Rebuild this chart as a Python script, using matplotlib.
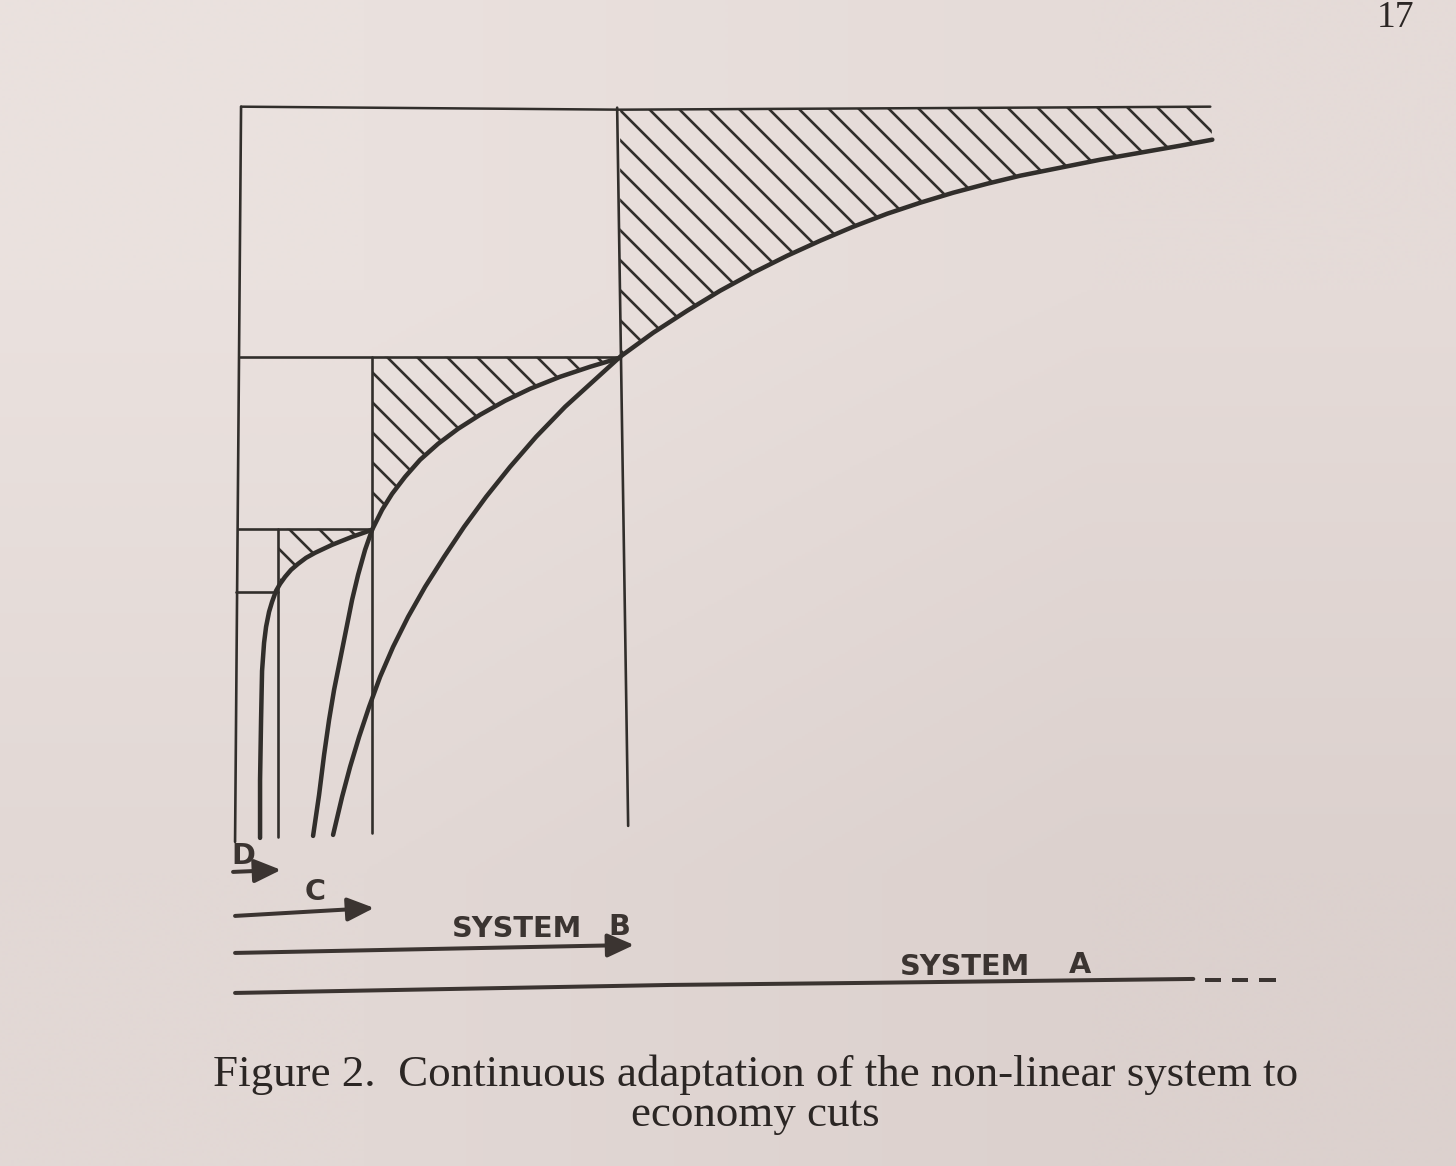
import matplotlib.pyplot as plt
import numpy as np
from matplotlib.patches import Polygon

plt.rcParams['hatch.linewidth'] = 1.05

# page size in pixels; all coordinates below are page pixels, y pointing down
W, H = 1456, 1166
DPI = 180   # 180 dpi -> hatch lines every 30 px, like the drawing

ink = '#312e2b'
pen = '#3b3431'
print_ink = '#2b2624'

# --- curves ---
# system A: flat tail on the right, through the B corner, steep drop to the bottom
curve_a_x = [1212, 1180, 1140, 1100, 1060, 1020, 987, 953, 920, 887, 853, 820, 787, 753, 720,
             687, 653, 620, 565, 536, 510, 486, 464, 444, 425, 408, 393, 380, 369, 359,
             350, 342, 333]
curve_a_y = [140, 146, 153, 160, 168, 176, 184, 193, 203, 214, 227, 241, 256, 273, 291,
             311, 333, 357, 407, 437, 467, 497, 527, 557, 587, 617, 647, 677, 707, 737,
             767, 797, 835]
# system B: from the B corner to the C corner and down
curve_b_x = [620, 590, 560, 530, 505, 480, 458, 438, 420, 405, 392, 382, 372,
             365, 358, 352, 346, 340, 334, 329, 324, 319, 313]
curve_b_y = [358, 367, 377, 389, 401, 415, 429, 444, 460, 477, 494, 510, 530,
             550, 575, 600, 630, 660, 690, 720, 755, 795, 836]
# system C: from the C corner, round the D corner and down
curve_c_x = [372, 352, 332, 315, 306, 298, 291, 285, 280, 276, 272, 269, 266, 264, 262,
             261, 260, 260]
curve_c_y = [530, 537, 545, 553, 558, 564, 570, 577, 584, 591, 602, 612, 627, 643, 671,
             720, 780, 838]

# top edge of the big box
top_x = [241, 620, 1210]
top_y = [107, 110, 107]

# the box edges and the verticals, (x0, y0, x1, y1)
frame_lines = [
    (241, 107, 235, 842),   # left edge
    (617, 108, 628, 826),   # end of system B
    (372, 357, 372, 833),   # end of system C
    (278, 529, 278, 837),   # end of system D
    (240, 357, 620, 357),
    (238, 529, 372, 529),
    (236, 592, 278, 592),
]

# arrows under the drawing: start, tip
arrow_start = [(233, 872), (235, 916), (235, 953)]
arrow_tip = [(281, 870), (374, 908), (634, 945)]

# system A baseline and the three dashes after it
line_a_x = [235, 670, 860, 1193]
line_a_y = [993, 985, 983, 979]
dash_x0 = [1205, 1232, 1259]
dash_x1 = [1221, 1248, 1276]
dash_y = [980, 980, 980]

# hand lettering: text, centre x, centre y
labels = ['D', 'C', 'SYSTEM', 'B', 'SYSTEM', 'A']
label_x = [243, 315, 517, 619, 965, 1080]
label_y = [856, 892, 929, 927, 967, 965]

caption = ['Figure 2.  Continuous adaptation of the non-linear system to',
           'economy cuts']
caption_y = [1086, 1126]
page_number = '17'

fig = plt.figure(figsize=(W / DPI + 0.002, H / DPI + 0.002), dpi=DPI)
ax = fig.add_axes([0, 0, 1, 1])

# paper, a little lighter at the top left
paper = np.array([[[234, 225, 222], [229, 219, 216]],
                  [[226, 216, 213], [220, 209, 206]]]) / 255
ax.imshow(paper, extent=(0, W, H, 0), interpolation='bilinear', aspect='auto', zorder=0)

# hatched areas between the curves and the box tops
a_up = [(x, y) for x, y in zip(curve_a_x, curve_a_y) if x >= 620]
b_up = [(x, y) for x, y in zip(curve_b_x, curve_b_y) if y <= 530]
c_up = [(x, y) for x, y in zip(curve_c_x, curve_c_y) if x >= 278]
regions = [
    list(zip(top_x[1:], top_y[1:])) + a_up,
    [(372, 357), (620, 357)] + b_up,
    [(278, 529), (372, 529)] + c_up,
]
for verts in regions:
    ax.add_patch(Polygon(verts, closed=True, facecolor='none', edgecolor=ink,
                         linewidth=0, hatch='\\\\', zorder=2))

ax.plot(top_x, top_y, color=ink, lw=1.0, solid_capstyle='round', zorder=3)
for x0, y0, x1, y1 in frame_lines:
    ax.plot([x0, x1], [y0, y1], color=ink, lw=1.05, solid_capstyle='round', zorder=3)

for cx, cy in [(curve_a_x, curve_a_y), (curve_b_x, curve_b_y), (curve_c_x, curve_c_y)]:
    ax.plot(cx, cy, color=ink, lw=1.8, solid_capstyle='round', solid_joinstyle='round', zorder=4)

for s, t in zip(arrow_start, arrow_tip):
    ax.annotate('', xy=t, xytext=s,
                arrowprops=dict(arrowstyle='-|>,head_length=0.45,head_width=0.2',
                                mutation_scale=20, lw=1.6, color=pen,
                                shrinkA=0, shrinkB=0))

ax.plot(line_a_x, line_a_y, color=pen, lw=1.6, solid_capstyle='round')
for x0, x1, y in zip(dash_x0, dash_x1, dash_y):
    ax.plot([x0, x1], [y, y], color=pen, lw=1.6, solid_capstyle='butt')

for txt, x, y in zip(labels, label_x, label_y):
    ax.text(x, y, txt, fontsize=11.5, fontweight='bold', family='DejaVu Sans',
            color=pen, ha='center', va='center')

for line, y in zip(caption, caption_y):
    ax.text(755, y, line, fontsize=18, family='Liberation Serif',
            color=print_ink, ha='center', va='baseline')

ax.text(1395, 27, page_number, fontsize=15, family='Liberation Serif',
        color=print_ink, ha='center', va='baseline')

ax.set_xlim(0, W)
ax.set_ylim(H, 0)
ax.axis('off')

fig.savefig('out.png', dpi=DPI)
